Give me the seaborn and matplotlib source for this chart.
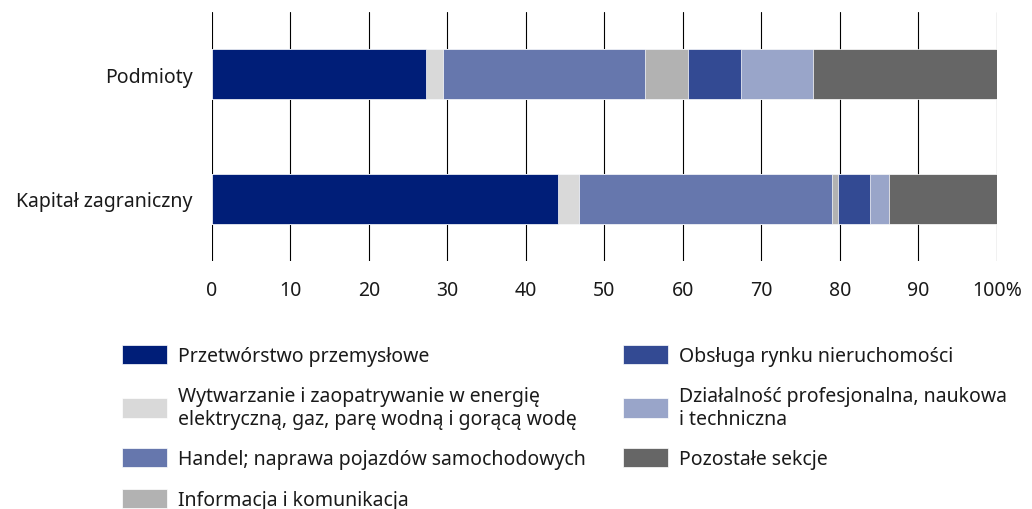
import matplotlib
matplotlib.use('Agg')
import matplotlib.pyplot as plt
import numpy as np
import pandas as pd
import seaborn as sns

# dane
categories = ['Podmioty', 'Kapitał zagraniczny']
sections = [
    'Przetwórstwo przemysłowe',
    'Wytwarzanie i zaopatrywanie w energię\nelektryczną, gaz, parę wodną i gorącą wodę',
    'Handel; naprawa pojazdów samochodowych',
    'Informacja i komunikacja',
    'Obsługa rynku nieruchomości',
    'Działalność profesjonalna, naukowa\ni techniczna',
    'Pozostałe sekcje',
]
podmioty = [27.3, 2.1, 25.8, 5.5, 6.7, 9.2, 23.4]
kapital = [44.1, 2.7, 32.2, 0.7, 4.1, 2.4, 13.8]
colors = ['#001E78', '#D9D9D9', '#6677AD', '#B2B2B2', '#334A93', '#99A5C9', '#666666']
xticks = [0, 10, 20, 30, 40, 50, 60, 70, 80, 90, 100]
xticklabels = ['0', '10', '20', '30', '40', '50', '60', '70', '80', '90', '100%']

sns.set_theme(style='white')
plt.rcParams['font.family'] = ['Noto Sans', 'DejaVu Sans']
FS = 14

df = pd.DataFrame({'kategoria': categories})
cum_p = np.cumsum(podmioty)
cum_k = np.cumsum(kapital)

fig = plt.figure(figsize=(10.32, 5.10), dpi=100)
ax = fig.add_axes([0.2054, 0.4863, 0.7606, 0.4882])

# rysujemy od końca, żeby krótsze skumulowane słupki były na wierzchu
for i in range(len(sections) - 1, -1, -1):
    df['wartosc'] = [cum_p[i], cum_k[i]]
    sns.barplot(data=df, x='wartosc', y='kategoria', orient='h', color=colors[i],
                width=0.4, edgecolor='white', linewidth=0.5, saturation=1,
                label=sections[i], ax=ax, zorder=3)

ax.set_xlim(0, 100)
ax.set_ylim(1.5, -0.5)
ax.set_xticks(xticks)
ax.set_xticklabels(xticklabels)
ax.set_xlabel('')
ax.set_ylabel('')
ax.grid(axis='x', color='black', linewidth=0.8)
ax.set_axisbelow(True)
for s in ax.spines.values():
    s.set_visible(False)
ax.tick_params(axis='x', length=0, pad=14, labelsize=FS, colors='#1a1a1a')
ax.tick_params(axis='y', length=0, pad=14, labelsize=FS, colors='#1a1a1a')

handles, labels = ax.get_legend_handles_labels()
handles, labels = handles[::-1], labels[::-1]
leg = ax.legend(handles, labels, loc='upper left', bbox_to_anchor=(0.1105, 0.337),
                bbox_transform=fig.transFigure, ncol=2, frameon=False, fontsize=FS,
                handlelength=2.3, handleheight=1.15, handletextpad=0.6,
                columnspacing=1.9, labelspacing=1.0, borderaxespad=0)
for t in leg.get_texts():
    t.set_color('#1a1a1a')

plt.savefig('out.png', dpi=100)
